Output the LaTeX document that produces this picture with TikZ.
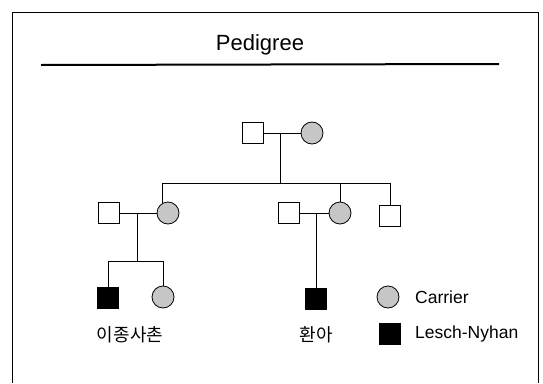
\documentclass[tikz,border=0pt]{standalone}
\usepackage{fontspec}
\setmainfont{Liberation Sans}
\newfontfamily\kor{Noto Sans CJK KR}
\usepackage{tikz}
\usetikzlibrary{positioning}

\begin{document}
\begin{tikzpicture}[
  x=1pt, y=-1pt,
  male/.style={draw, line width=0.8pt, minimum size=21pt, inner sep=0pt},
  female/.style={circle, draw, line width=0.8pt, minimum size=22pt, inner sep=0pt},
  carrier/.style={female, fill=gray!45},
  affected/.style={male, fill=black},
  link/.style={line width=1pt},
  lbl/.style={font=\fontsize{17.5}{20}\selectfont, anchor=west, inner sep=0pt}
]
  \useasboundingbox (0,0) rectangle (543,383);
  % frame and title
  \draw[line width=0.8pt] (12,383) -- (12,12) -- (538,12) -- (538,383);
  \node[font=\fontsize{22}{24}\selectfont] (title) at (260,45) {Pedigree};
  \draw[line width=2pt] (41,65) -- (499,64);

  % generation I
  \node[male] (gpa) at (253,133) {};
  \node[carrier] (gma) at (312,133) {};
  \coordinate (gcpl) at (280,133);
  \coordinate (sib) at (280,183);

  % generation II
  \node[male] (uncle) at (109,213) {};
  \node[carrier] (aunt) at (168,213) {};
  \node[male] (dad) at (289,213) {};
  \node[carrier] (mom) at (340,213) {};
  \node[male] (bro) at (390,216) {};
  \coordinate (acpl) at (137,213);
  \coordinate (mcpl) at (316,213);
  \coordinate (sib2) at (137,261);

  % generation III
  \node[affected] (cousin) at (108,298) {};
  \node[carrier] (cousis) at (163,297) {};
  \node[affected] (patient) at (316,299) {};
  \node[font=\kor\fontsize{18}{20}\selectfont] (lcousin) at (130,335) {이종사촌};
  \node[font=\kor\fontsize{18}{20}\selectfont] (lpatient) at (316,335) {환아};

  % legend
  \node[carrier] (keyc) at (388,297) {};
  \node[lbl] (keyct) at (415,297) {Carrier};
  \node[affected] (keya) at (390,334) {};
  \node[lbl] (keyat) at (415,334) {Lesch-Nyhan};

  % lines
  \draw[link] (gpa) -- (gma);
  \draw[link] (gcpl) -- (sib);
  \draw[link] (aunt.120 |- sib) -- (bro.north |- sib);
  \draw[link] (aunt.120 |- sib) -- (aunt.120);
  \draw[link] (mom.north |- sib) -- (mom.north);
  \draw[link] (bro.north |- sib) -- (bro.north);
  \draw[link] (uncle) -- (aunt);
  \draw[link] (acpl) -- (sib2);
  \draw[link] (cousin.north |- sib2) -- (cousis.north |- sib2);
  \draw[link] (cousin.north |- sib2) -- (cousin.north);
  \draw[link] (cousis.north |- sib2) -- (cousis.north);
  \draw[link] (dad) -- (mom);
  \draw[link] (mcpl) -- (patient.north);
\end{tikzpicture}
\end{document}
